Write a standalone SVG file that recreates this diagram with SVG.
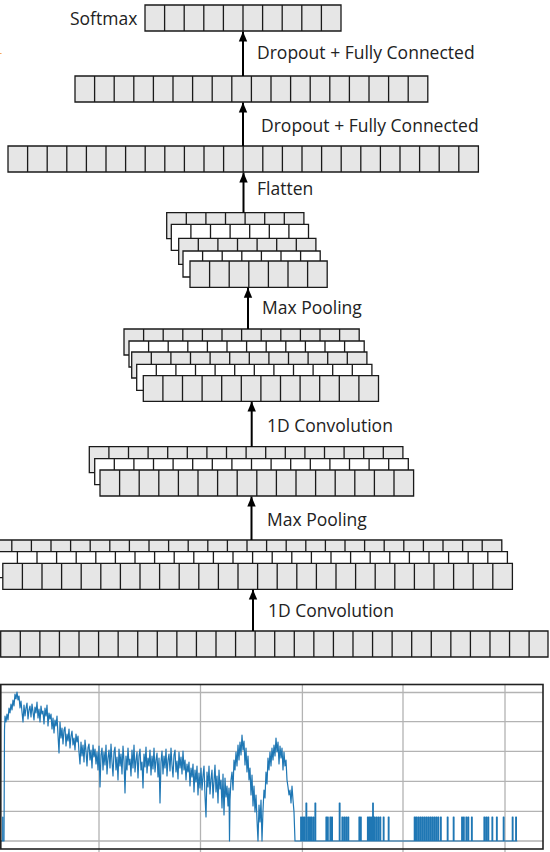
<svg xmlns="http://www.w3.org/2000/svg" width="550" height="852" viewBox="0 0 550 852">
<style>
.g{fill:#e6e6e6;stroke:#1a1a1a;stroke-width:1.3}
.w{fill:#ffffff;stroke:#1a1a1a;stroke-width:1.3}
.t{font-family:"Open Sans","Liberation Sans",sans-serif;font-size:17.5px;fill:#222}
.a{stroke:#000;stroke-width:2;fill:none;marker-end:url(#ah)}
.grid{stroke:#b3b3b3;stroke-width:1.3;fill:none}
.sig{stroke:#1f77b4;stroke-width:1.2;fill:none;stroke-linejoin:round}
</style>
<defs>
<marker id="ah" markerUnits="userSpaceOnUse" markerWidth="10" markerHeight="10" viewBox="0 0 10 10" refX="10" refY="5" orient="auto">
<path d="M0 0.8L10 5L0 9.2z" fill="#000"/>
</marker>
</defs>
<rect width="550" height="852" fill="#fff"/>
<line x1="0" y1="53.5" x2="1.5" y2="53.5" stroke="#f4a460" stroke-width="1"/>

<g id="softmax">
<text class="t" x="70" y="25">Softmax</text>
<path class="g" d="M145 5h196v26h-196z M164.6 5v26m19.6-26v26m19.6-26v26m19.6-26v26m19.6-26v26m19.6-26v26m19.6-26v26m19.6-26v26m19.6-26v26"/>
</g>

<g id="fc1">
<path class="g" d="M75 76h352.8v26h-352.8z M94.6 76v26m19.6-26v26m19.6-26v26m19.6-26v26m19.6-26v26m19.6-26v26m19.6-26v26m19.6-26v26m19.6-26v26m19.6-26v26m19.6-26v26m19.6-26v26m19.6-26v26m19.6-26v26m19.6-26v26m19.6-26v26m19.6-26v26"/>
</g>

<g id="fc2">
<path class="g" d="M8 146h470.4v26h-470.4z M27.6 146v26m19.6-26v26m19.6-26v26m19.6-26v26m19.6-26v26m19.6-26v26m19.6-26v26m19.6-26v26m19.6-26v26m19.6-26v26m19.6-26v26m19.6-26v26m19.6-26v26m19.6-26v26m19.6-26v26m19.6-26v26m19.6-26v26m19.6-26v26m19.6-26v26m19.6-26v26m19.6-26v26m19.6-26v26m19.6-26v26"/>
</g>

<g id="flatten-stack">
<path class="g" d="M166.7 212.7h137.2v26h-137.2z M186.3 212.7v26m19.6-26v26m19.6-26v26m19.6-26v26m19.6-26v26m19.6-26v26"/>
<path class="w" d="M171.3 224.3h137.2v26h-137.2z M190.9 224.3v26m19.6-26v26m19.6-26v26m19.6-26v26m19.6-26v26m19.6-26v26"/>
<path class="g" d="M178.7 238.3h137.2v26h-137.2z M198.3 238.3v26m19.6-26v26m19.6-26v26m19.6-26v26m19.6-26v26m19.6-26v26"/>
<path class="w" d="M183 251h137.2v26h-137.2z M202.6 251v26m19.6-26v26m19.6-26v26m19.6-26v26m19.6-26v26m19.6-26v26"/>
<path class="g" d="M190 261h137.2v26.3h-137.2z M209.6 261v26.3m19.6-26.3v26.3m19.6-26.3v26.3m19.6-26.3v26.3m19.6-26.3v26.3m19.6-26.3v26.3"/>
</g>

<g id="conv2-stack">
<path class="g" d="M124 329h235.2v26h-235.2z M143.6 329v26m19.6-26v26m19.6-26v26m19.6-26v26m19.6-26v26m19.6-26v26m19.6-26v26m19.6-26v26m19.6-26v26m19.6-26v26m19.6-26v26"/>
<path class="w" d="M129 341h235.2v26h-235.2z M148.6 341v26m19.6-26v26m19.6-26v26m19.6-26v26m19.6-26v26m19.6-26v26m19.6-26v26m19.6-26v26m19.6-26v26m19.6-26v26m19.6-26v26"/>
<path class="g" d="M131.7 352h235.2v26h-235.2z M151.3 352v26m19.6-26v26m19.6-26v26m19.6-26v26m19.6-26v26m19.6-26v26m19.6-26v26m19.6-26v26m19.6-26v26m19.6-26v26m19.6-26v26"/>
<path class="w" d="M136.7 364.3h235.2v26h-235.2z M156.3 364.3v26m19.6-26v26m19.6-26v26m19.6-26v26m19.6-26v26m19.6-26v26m19.6-26v26m19.6-26v26m19.6-26v26m19.6-26v26m19.6-26v26"/>
<path class="g" d="M143.3 375.7h235.2v25.6h-235.2z M162.9 375.7v25.6m19.6-25.6v25.6m19.6-25.6v25.6m19.6-25.6v25.6m19.6-25.6v25.6m19.6-25.6v25.6m19.6-25.6v25.6m19.6-25.6v25.6m19.6-25.6v25.6m19.6-25.6v25.6m19.6-25.6v25.6"/>
</g>

<g id="pool1-stack">
<path class="g" d="M89.3 446.7h313.6v26h-313.6z M108.9 446.7v26m19.6-26v26m19.6-26v26m19.6-26v26m19.6-26v26m19.6-26v26m19.6-26v26m19.6-26v26m19.6-26v26m19.6-26v26m19.6-26v26m19.6-26v26m19.6-26v26m19.6-26v26m19.6-26v26"/>
<path class="w" d="M94.7 458.7h313.6v26h-313.6z M114.3 458.7v26m19.6-26v26m19.6-26v26m19.6-26v26m19.6-26v26m19.6-26v26m19.6-26v26m19.6-26v26m19.6-26v26m19.6-26v26m19.6-26v26m19.6-26v26m19.6-26v26m19.6-26v26m19.6-26v26"/>
<path class="g" d="M100 470h313.6v26h-313.6z M119.6 470v26m19.6-26v26m19.6-26v26m19.6-26v26m19.6-26v26m19.6-26v26m19.6-26v26m19.6-26v26m19.6-26v26m19.6-26v26m19.6-26v26m19.6-26v26m19.6-26v26m19.6-26v26m19.6-26v26"/>
</g>

<g id="conv1-stack">
<path class="g" d="M-7.8 540h509.6v26h-509.6z M11.8 540v26m19.6-26v26m19.6-26v26m19.6-26v26m19.6-26v26m19.6-26v26m19.6-26v26m19.6-26v26m19.6-26v26m19.6-26v26m19.6-26v26m19.6-26v26m19.6-26v26m19.6-26v26m19.6-26v26m19.6-26v26m19.6-26v26m19.6-26v26m19.6-26v26m19.6-26v26m19.6-26v26m19.6-26v26m19.6-26v26m19.6-26v26m19.6-26v26"/>
<path class="w" d="M-2.2 551.7h509.6v26h-509.6z M17.4 551.7v26m19.6-26v26m19.6-26v26m19.6-26v26m19.6-26v26m19.6-26v26m19.6-26v26m19.6-26v26m19.6-26v26m19.6-26v26m19.6-26v26m19.6-26v26m19.6-26v26m19.6-26v26m19.6-26v26m19.6-26v26m19.6-26v26m19.6-26v26m19.6-26v26m19.6-26v26m19.6-26v26m19.6-26v26m19.6-26v26m19.6-26v26m19.6-26v26"/>
<path class="g" d="M2.8 563.3h509.6v26h-509.6z M22.4 563.3v26m19.6-26v26m19.6-26v26m19.6-26v26m19.6-26v26m19.6-26v26m19.6-26v26m19.6-26v26m19.6-26v26m19.6-26v26m19.6-26v26m19.6-26v26m19.6-26v26m19.6-26v26m19.6-26v26m19.6-26v26m19.6-26v26m19.6-26v26m19.6-26v26m19.6-26v26m19.6-26v26m19.6-26v26m19.6-26v26m19.6-26v26m19.6-26v26"/>
</g>

<g id="input">
<path class="g" d="M0.7 631h547.3v26h-547.3z M20.3 631v26m19.57-26v26m19.57-26v26m19.57-26v26m19.57-26v26m19.57-26v26m19.57-26v26m19.57-26v26m19.57-26v26m19.57-26v26m19.57-26v26m19.57-26v26m19.57-26v26m19.57-26v26m19.57-26v26m19.57-26v26m19.57-26v26m19.57-26v26m19.57-26v26m19.57-26v26m19.57-26v26m19.57-26v26m19.57-26v26m19.57-26v26m19.57-26v26m19.57-26v26m19.57-26v26"/>
</g>

<g id="chart">
<path class="grid" d="M0 692.5H543M0 721.7H543M0 751.3H543M0 781.3H543M0 811.3H543M0 841H543M99 684V852M200.5 684V852M302.4 684V852M403 684V852M505 684V852"/>
<path class="sig" d="M1 841H2.7V817V841H4L4.5 730L5 716L6 722L7 714L8 720L9 708L10 713L11 704L12 710L13 700L14 706L15 694L16 699L17 692L18 700L19 696L20 708L21 701L22 712L23 722L24 705L25 716L26 708L27 703L28 719L29 710L30 706L31 717L32 704L33 712L34 720L35 707L36 713L37 702L38 718L39 709L40 722L41 706L42 714L43 711L44 724L45 708L46 716L47 705L48 726L49 713L50 719L51 714L52 729L53 718L54 733L55 720L56 726L57 716L58 735L59 753L60 722L61 738L62 728L63 744L64 730L65 727L66 746L67 734L68 741L69 729L70 748L71 736L72 731L73 745L74 738L75 750L76 734L77 742L78 736L79 752L80 764L81 742L82 756L83 745L84 762L85 740L86 751L87 766L88 748L89 744L90 760L91 750L92 768L93 745L94 757L95 749L96 764L97 752L98 770L99 746L100 787L101 755L102 748L103 770L104 752L105 765L106 745L107 774L108 758L109 750L110 768L111 744L112 762L113 776L114 752L115 747L116 770L117 757L118 780L119 749L120 766L121 754L122 774L123 746L124 761L125 793L126 756L127 770L128 748L129 765L130 759L131 776L132 750L133 768L134 745L135 772L136 760L137 752L138 778L139 756L140 749L141 770L142 762L143 788L144 754L145 767L146 747L147 773L148 758L149 766L150 750L151 775L152 756L153 769L154 748L155 772L156 760L157 753L158 777L159 758L160 803L161 762L162 751L163 774L164 756L165 768L166 749L167 776L168 760L169 754L170 771L171 748L172 765L173 777L174 755L175 750L176 772L177 761L178 779L179 752L180 768L181 757L182 774L183 751L184 770L185 760L186 780L187 764L188 772L189 762L190 786L191 768L192 777L193 764L194 792L195 770L196 782L197 766L198 795L199 773L200 788L201 768L202 790L203 776L204 766L205 796L206 817L207 772L208 787L209 766L210 794L211 779L212 770L213 798L214 781L215 765L216 792L217 776L218 803L219 770L220 789L221 780L222 808L223 774L224 815L225 778L226 797L227 786L228 806L229 788L229.5 841L230 800L231 780L232 772L233 790L234 760L235 770L236 752L237 766L238 745L239 760L240 742L241 755L242 735L243 750L244 741L245 765L246 748L247 772L248 756L249 780L250 768L251 795L252 775L253 806L254 786L255 812L256 795L257 820L258 841L259 805L260 822L261 800L262 841L263 810L264 790L265 798L266 772L267 784L268 758L269 770L270 752L271 766L272 748L273 760L274 745L275 756L276 738L277 752L278 742L279 764L280 746L281 758L282 748L283 770L284 752L285 766L286 760L287 780L288 787L289 795L290 790L291 803L292 786L293 800L294 812L295 841H300.7V817H301.4V841H302.5V817H303.2V841H304V817H304.7V841H306V803H306.7V841H308V817H308.7V841H309.5V817H310.2V841H311V817H311.7V841H313V817H313.7V841H315V803H315.7V841H326V817H326.7V841H327.5V817H328.2V841H330V817H330.7V841H331.7V817H332.4V841H339.3V803H340V841H342V817H342.7V841H344V817H344.7V841H346V817H346.7V841H348V817H348.7V841H359V817H359.7V841H360.5V817H361.2V841H367.5V817H368.2V841H369V817H369.7V841H370.5V817H371.2V841H372V817H372.4V841H372.7V803H373.3V841H374V817H374.7V841H376V817H376.7V841H378V817H378.7V841H380V817H380.7V841H383.3V817H384V841H388.3V817H389V841H414.3V817H415V841H416V817H416.7V841H418V817H418.7V841H420V817H420.7V841H422V817H422.7V841H424V817H424.7V841H426V817H426.7V841H428V817H428.7V841H430V817H430.7V841H432V817H432.7V841H434V817H434.7V841H436V817H436.7V841H438V817H438.7V841H440.5V817H441.2V841H447.3V817H448V841H453.3V817H454V841H461.7V817H462.4V841H463.5V817H464.2V841H466V817H466.7V841H468V817H468.7V841H471.5V817H472.2V841H484V817H484.7V841H486V817H486.7V841H488V817H488.7V841H492V817H492.7V841H496.5V817H497.2V841H503.3V817H504V841H512.3V817H513V841H515.7V817H516.4V841H517.3"/>
<rect x="0.8" y="684.5" width="542.2" height="164.5" fill="none" stroke="#222" stroke-width="1.6"/>
</g>

<g id="connectors">
<line class="a" x1="243" y1="76" x2="243" y2="31.5"/>
<line class="a" x1="243" y1="146" x2="243" y2="102.5"/>
<line class="a" x1="243.5" y1="212.7" x2="243.5" y2="172.5"/>
<line class="a" x1="248" y1="329" x2="248" y2="287.8"/>
<line class="a" x1="251.7" y1="446.7" x2="251.7" y2="401.6"/>
<line class="a" x1="251.5" y1="540" x2="251.5" y2="496.5"/>
<line class="a" x1="253" y1="631" x2="253" y2="589.6"/>
<text class="t" x="257" y="59">Dropout + Fully Connected</text>
<text class="t" x="261" y="131.5">Dropout + Fully Connected</text>
<text class="t" x="257" y="195">Flatten</text>
<text class="t" x="262" y="314">Max Pooling</text>
<text class="t" x="267" y="432">1D Convolution</text>
<text class="t" x="267" y="526">Max Pooling</text>
<text class="t" x="268" y="617">1D Convolution</text>
</g>
</svg>
